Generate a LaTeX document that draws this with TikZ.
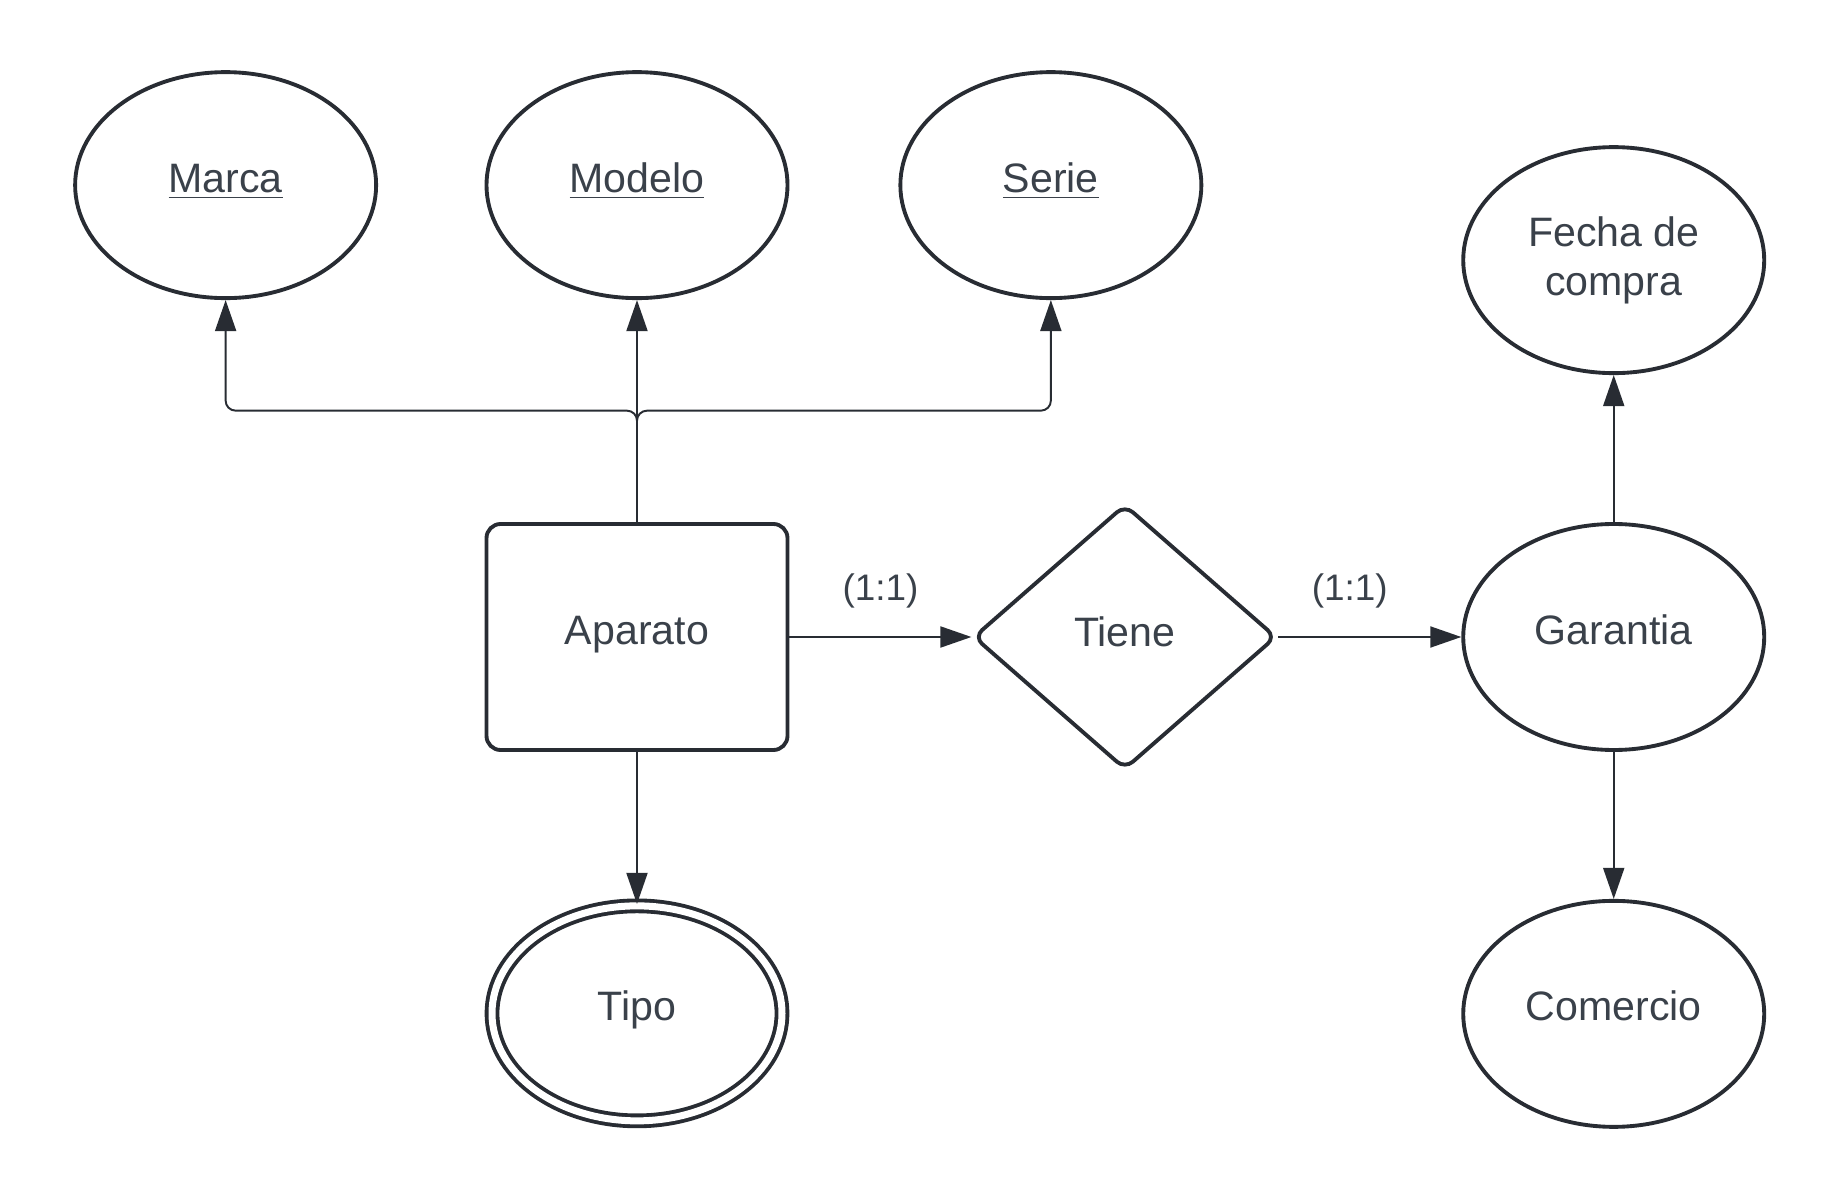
\documentclass[tikz,border=0pt]{standalone}
\usepackage{fontspec}
\setmainfont{Liberation Sans}
\usepackage{xcolor}
\usetikzlibrary{arrows.meta,positioning,shapes.geometric}
\definecolor{inkline}{HTML}{282C33}
\definecolor{inktext}{HTML}{3A414A}
\tikzset{
  entitybox/.style={
    rectangle, draw=inkline, line width=1.1pt, rounded corners=4pt,
    minimum width=3.01cm, minimum height=2.26cm,
    font=\fontsize{11.7}{14}\selectfont, text=inktext, align=center,
    text height=8.2pt, text depth=4.2pt
  },
  attrnode/.style={
    ellipse, draw=inkline, line width=1.1pt,
    minimum width=3.01cm, minimum height=2.26cm, inner sep=0pt,
    font=\fontsize{11.7}{14}\selectfont, text=inktext, align=center
  },
  oneline/.style={text height=8.2pt, text depth=4.2pt},
  multiattr/.style={
    attrnode, oneline, double=white, double distance=0.07cm,
    minimum width=2.90cm, minimum height=2.15cm
  },
  relnode/.style={
    diamond, draw=inkline, line width=1.1pt, rounded corners=3pt,
    minimum width=3.03cm, minimum height=2.65cm, inner sep=0pt,
    font=\fontsize{11.7}{14}\selectfont, text=inktext,
    text height=8.2pt, text depth=3pt
  },
  link/.style={
    -{Triangle[length=0.31cm, width=0.21cm]}, line width=0.55pt, color=inkline
  },
  cardlabel/.style={
    font=\fontsize{10.5}{12}\selectfont, text=inktext
  },
}
\begin{document}
\begin{tikzpicture}[node distance=1.47cm and 1.82cm]
  \useasboundingbox (0,0) rectangle (18.38,12);

  % Entidad principal
  \node[entitybox] (aparato) at (6.37,5.63) {Aparato};
  \node[relnode, right=of aparato] (tiene) {Tiene};
  \node[attrnode, oneline, right=1.83cm of tiene] (garantia) {Garantia};

  % Atributos clave
  \node[attrnode, oneline, above=2.22cm of aparato] (modelo) {\underline{Modelo}};
  \node[attrnode, oneline, left=1.065cm of modelo] (marca) {\underline{Marca}};
  \node[attrnode, oneline, right=1.09cm of modelo] (serie) {\underline{Serie}};
  \node[multiattr, below=1.52cm of aparato] (tipo) {Tipo};

  % Atributos de la garantia
  \node[attrnode, above=of garantia] (fecha) {Fecha de\\compra};
  \node[attrnode, oneline, below=of garantia] (comercio) {Comercio};

  \coordinate[above=1.114cm of aparato.north] (branch);

  \draw[link, rounded corners=0.1cm] (aparato.north) -- (branch) -| (marca.south);
  \draw[link, rounded corners=0.1cm] (aparato.north) -- (branch) -| (serie.south);
  \draw[link] (aparato.north) -- (modelo.south);
  \draw[link] (aparato) -- (tipo);

  \draw[link] (aparato) -- node[cardlabel, above=0.16cm] {(1:1)} (tiene);
  \draw[link] (tiene) -- node[cardlabel, above=0.16cm, xshift=-0.2cm] {(1:1)} (garantia);
  \draw[link] (garantia) -- (fecha);
  \draw[link] (garantia) -- (comercio);
\end{tikzpicture}
\end{document}
